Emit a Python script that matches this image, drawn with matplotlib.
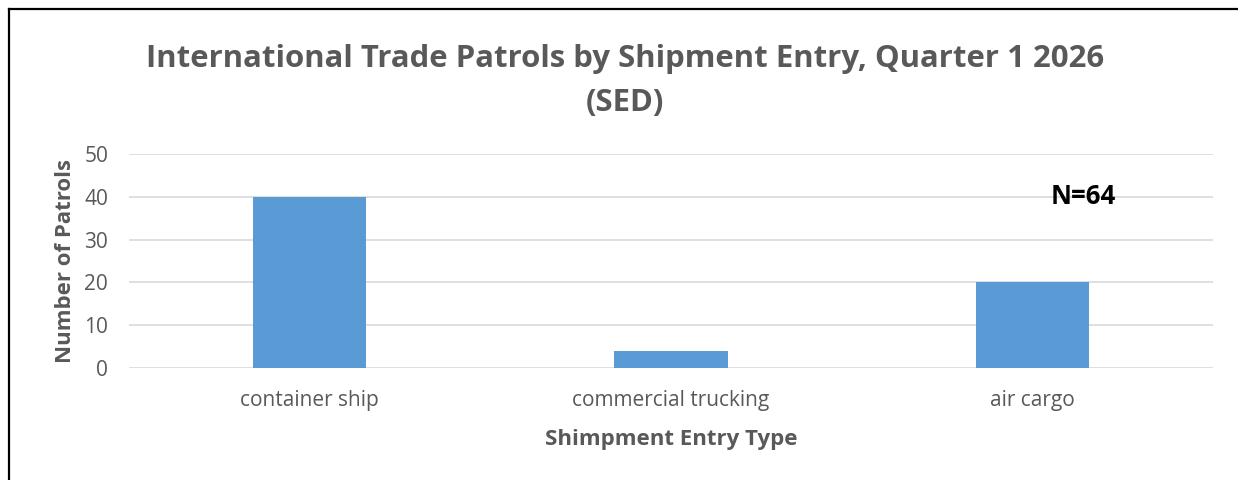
import matplotlib
matplotlib.use("Agg")
import matplotlib.pyplot as plt
from matplotlib.lines import Line2D

categories = ["container ship", "commercial trucking", "air cargo"]
patrols = [40, 4, 20]
y_ticks = [0, 10, 20, 30, 40, 50]
n_label = "N=64"

GRAY = "#595959"
BLUE = "#5b9bd5"

plt.rcParams["font.family"] = ["Open Sans", "DejaVu Sans"]

fig = plt.figure(figsize=(12.38, 4.8), dpi=100)
ax = fig.add_axes([129 / 1238, 1 - 368 / 480, (1213 - 129) / 1238, (368 - 154) / 480])

x = range(len(categories))
ax.bar(x, patrols, width=0.313, color=BLUE, zorder=3)

ax.set_xlim(-0.5, len(categories) - 0.5)
ax.set_ylim(0, 50)
ax.set_yticks(y_ticks)
ax.set_xticks(list(x))
ax.set_xticklabels(categories)
ax.grid(axis="y", color="#d9d9d9", linewidth=1.2, zorder=0)
for s in ax.spines.values():
    s.set_visible(False)
ax.tick_params(axis="both", length=0, colors=GRAY, labelsize=15)
ax.tick_params(axis="x", pad=16)
ax.tick_params(axis="y", pad=15)

ax.set_xlabel("Shimpment Entry Type", fontsize=16, fontweight="bold",
              color=GRAY, labelpad=13)
ax.set_ylabel("Number of Patrols", fontsize=16, fontweight="bold",
              color=GRAY, labelpad=6)

ax.text(2.142, 40, n_label, ha="center", va="center", fontsize=18.5,
        fontweight="bold", color="black", zorder=4)

fig.text(625 / 1238, 1 - 59 / 480, "International Trade Patrols by Shipment Entry, Quarter 1 2026",
         ha="center", va="center", fontsize=22.4, fontweight="bold", color=GRAY)
fig.text(625 / 1238, 1 - 103 / 480, "(SED)",
         ha="center", va="center", fontsize=22.4, fontweight="bold", color=GRAY)

# frame lines on top and left, as in the reference
fig.add_artist(Line2D([8.5 / 1238, 1], [1 - 8.5 / 480, 1 - 8.5 / 480],
                      color="black", linewidth=1.6, transform=fig.transFigure))
fig.add_artist(Line2D([8.5 / 1238, 8.5 / 1238], [0, 1 - 8.5 / 480],
                      color="black", linewidth=1.6, transform=fig.transFigure))

fig.savefig("out.png", dpi=100)
